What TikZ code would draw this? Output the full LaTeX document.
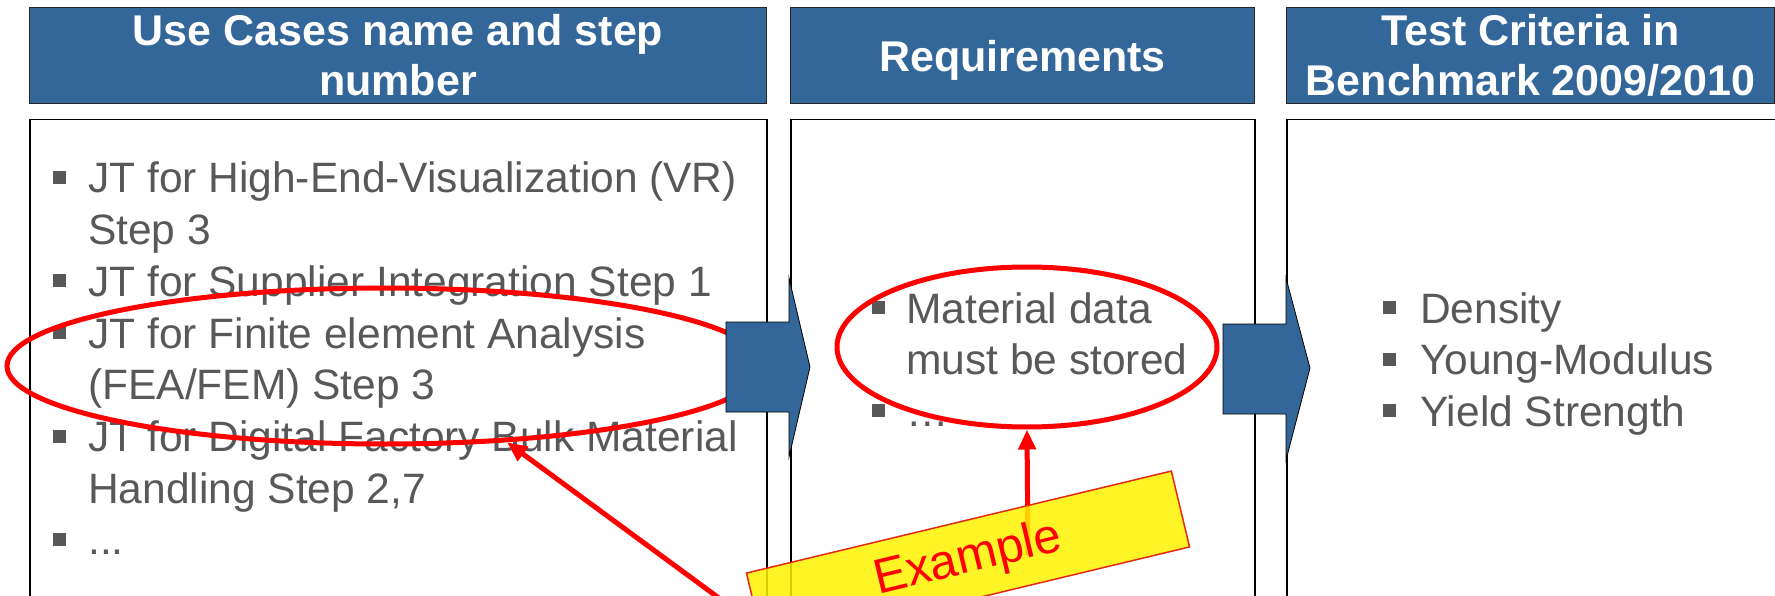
\documentclass[tikz,border=0pt]{standalone}
\usepackage{fontspec}
\setmainfont{Liberation Sans}
\usetikzlibrary{arrows.meta}
\usetikzlibrary{shapes.geometric}
\usetikzlibrary{positioning}

\definecolor{headblue}{RGB}{51,102,153}
\definecolor{textgray}{RGB}{88,88,91}
\definecolor{notered}{RGB}{230,40,20}

\tikzset{
  headbox/.style={anchor=north west, fill=headblue, draw=black!85, line width=1pt,
    text=white, align=center, inner sep=0pt, minimum height=96pt,
    font=\fontsize{43pt}{50pt}\selectfont\bfseries},
  boxframe/.style={anchor=north west, draw=black, line width=1.5pt, minimum height=520pt},
  txt/.style={anchor=base west, inner sep=0pt, text=textgray,
    font=\fontsize{42.5pt}{51.7pt}\selectfont},
  sq/.style={fill=textgray, minimum size=13pt, inner sep=0pt},
  ring/.style={ellipse, draw=red, line width=5pt, inner sep=0pt},
  blockarrow/.style={fill=headblue, draw=black, line width=0.8pt},
  pointer/.style={-{Triangle[length=20pt,width=17pt]}, draw=red, line width=5pt},
  notebox/.style={fill=yellow, fill opacity=0.85, text opacity=1, draw=notered,
    line width=1.5pt, text=red, font=\fontsize{49pt}{55pt}\selectfont,
    minimum width=437pt, minimum height=78pt}
}

\begin{document}
\begin{tikzpicture}[x=1pt, y=-1pt]
	\useasboundingbox (0,0) rectangle (1775,596);
	\clip (0,0) rectangle (1775,596);

	% column heads
	\node[headbox, minimum width=737pt] (uchead) at (29,7) {Use Cases name and step\\number};
	\node[headbox, minimum width=464pt, text depth=0pt] (reqhead) at (790,7) {Requirements};
	\node[headbox, minimum width=488pt] (tchead) at (1286,7) {Test Criteria in\\Benchmark 2009/2010};

	% column bodies
	\node[boxframe, minimum width=737pt] (ucbox) at (29,119) {};
	\node[boxframe, minimum width=464pt] (reqbox) at (790,119) {};
	\node[boxframe, minimum width=520pt] (tcbox) at (1286,119) {};

	% use cases
	\node[sq] at (59.5,177.5) {};
	\node[txt] (uc1) at (88,193) {JT for High-End-Visualization (VR)};
	\node[txt] (uc1b) at (88,244.7) {Step 3};
	\node[sq] at (59.5,280.9) {};
	\node[txt] (uc2) at (88,296.4) {JT for Supplier Integration Step 1};
	\node[sq] at (59.5,332.6) {};
	\node[txt] (uc3) at (88,348.1) {JT for Finite element Analysis};
	\node[txt] (uc3b) at (88,399.8) {(FEA/FEM) Step 3};
	\node[sq] at (59.5,436) {};
	\node[txt] (uc4) at (88,451.5) {JT for Digital Factory Bulk Material};
	\node[txt] (uc4b) at (88,503.2) {Handling Step 2,7};
	\node[sq] at (59.5,539.4) {};
	\node[txt] (uc5) at (88,554.9) {...};

	% requirements
	\node[sq] at (878.5,307.5) {};
	\node[txt] (req1) at (906,323) {Material data};
	\node[txt] (req1b) at (906,374.7) {must be stored};
	\node[sq] at (878.5,410.9) {};
	\node[txt] (req2) at (906,426.4) {…};

	% test criteria
	\node[sq] at (1389.5,307.5) {};
	\node[txt] (tc1) at (1420,323) {Density};
	\node[sq] at (1389.5,359.2) {};
	\node[txt] (tc2) at (1420,374.7) {Young-Modulus};
	\node[sq] at (1389.5,410.9) {};
	\node[txt] (tc3) at (1420,426.4) {Yield Strength};

	% highlights
	\node[ring, minimum width=756pt, minimum height=156pt] (ucring) at (385,366) {};
	\node[ring, minimum width=380pt, minimum height=160pt] (reqring) at (1027,347) {};

	% flow arrows
	\draw[blockarrow] (726,322) -- (789,322) -- (789,278) -- (810,367)
		-- (789,457) -- (789,412) -- (726,412) -- cycle;
	\draw[blockarrow] (1223,324) -- (1286,324) -- (1286,278) -- (1310,368)
		-- (1286,460) -- (1286,414) -- (1223,414) -- cycle;

	% example note
	\coordinate (exfoot) at (776,640);
	\coordinate (exstem) at (1028,555);
	\draw[pointer] (exfoot) -- (ucring.-32);
	\draw[pointer] (exstem) -- (reqring.south);
	\node[notebox, rotate=13.5] (example) at (968,560) {Example};
\end{tikzpicture}
\end{document}
